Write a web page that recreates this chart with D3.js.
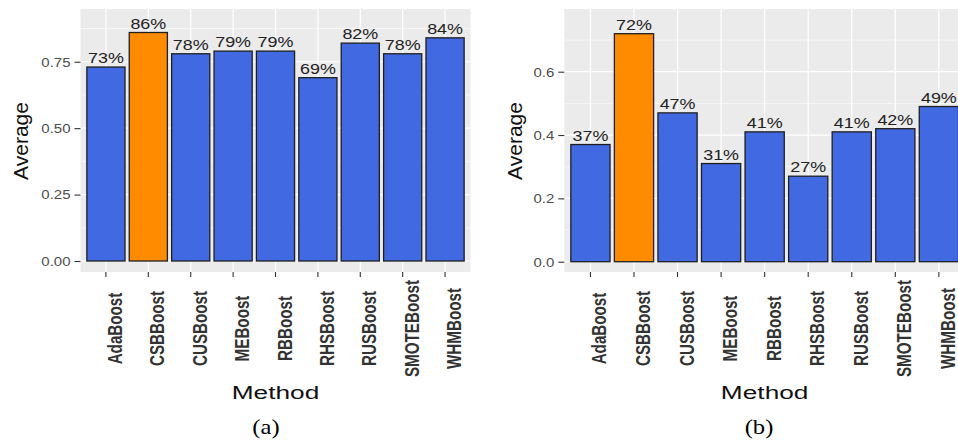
<!DOCTYPE html>
<html>
<head>
<meta charset="utf-8">
<script src="https://cdn.jsdelivr.net/npm/d3@7"></script>
<style>
  html, body { margin: 0; padding: 0; background: #fff; }
  svg { display: block; }
</style>
</head>
<body>
<svg id="chart" width="958" height="441"></svg>
<script>
// Boosting methods compared in both panels
const methods = ["AdaBoost", "CSBBoost", "CUSBoost", "MEBoost", "RBBoost",
                 "RHSBoost", "RUSBoost", "SMOTEBoost", "WHMBoost"];
const highlighted = "CSBBoost";

// Panel (a) averages
const averageA = [0.73, 0.86, 0.78, 0.79, 0.79, 0.69, 0.82, 0.78, 0.84];
const yBreaksA = [0, 0.25, 0.5, 0.75];
const yLabelsA = ["0.00", "0.25", "0.50", "0.75"];
const yMinorA = [0.125, 0.375, 0.625, 0.875];

// Panel (b) averages
const averageB = [0.37, 0.72, 0.47, 0.31, 0.41, 0.27, 0.41, 0.42, 0.49];
const yBreaksB = [0, 0.2, 0.4, 0.6];
const yLabelsB = ["0.0", "0.2", "0.4", "0.6"];
const yMinorB = [0.1, 0.3, 0.5, 0.7];

const captions = ["(a)", "(b)"];
const xTitle = "Method";
const yTitle = "Average";

const SANS = "'Liberation Sans', Arial, Helvetica, sans-serif";
const SERIF = "'Liberation Serif', 'Times New Roman', Times, serif";

const svg = d3.select("#chart");
const fmtPct = v => Math.round(v * 100) + "%";

function drawPanel(opt) {
  const { values, breaks, labels, minor, left, right, top, bottom, yDomain,
          titleX, captionX, caption } = opt;

  const x = d3.scaleBand().domain(methods).range([left, right])
    .paddingInner(0.1).paddingOuter(0.15);
  const y = d3.scaleLinear().domain(yDomain).range([bottom, top]);

  const g = svg.append("g");

  // panel background
  g.append("rect")
    .attr("x", left).attr("y", top)
    .attr("width", right - left).attr("height", bottom - top)
    .attr("fill", "#EBEBEB");

  // minor horizontal grid
  g.selectAll("line.minor").data(minor).join("line")
    .attr("x1", left).attr("x2", right)
    .attr("y1", d => y(d)).attr("y2", d => y(d))
    .attr("stroke", "#fff").attr("stroke-width", 0.6);

  // major horizontal grid
  g.selectAll("line.majorY").data(breaks).join("line")
    .attr("x1", left).attr("x2", right)
    .attr("y1", d => y(d)).attr("y2", d => y(d))
    .attr("stroke", "#fff").attr("stroke-width", 1.2);

  // major vertical grid
  g.selectAll("line.majorX").data(methods).join("line")
    .attr("x1", d => x(d) + x.bandwidth() / 2).attr("x2", d => x(d) + x.bandwidth() / 2)
    .attr("y1", top).attr("y2", bottom)
    .attr("stroke", "#fff").attr("stroke-width", 1.2);

  const data = methods.map((m, i) => ({ m, v: values[i] }));

  // bars
  g.selectAll("rect.bar").data(data).join("rect")
    .attr("x", d => x(d.m)).attr("width", x.bandwidth())
    .attr("y", d => y(d.v)).attr("height", d => y(0) - y(d.v))
    .attr("fill", d => d.m === highlighted ? "#FF8C00" : "#4169E1")
    .attr("stroke", "#1f1f1f").attr("stroke-width", 1.3);

  // value labels above bars
  g.selectAll("text.val").data(data).join("text")
    .attr("transform", d => `translate(${x(d.m) + x.bandwidth() / 2},${y(d.v) - 4}) scale(1.17,1)`)
    .attr("text-anchor", "middle")
    .style("font-family", SANS)
    .attr("font-size", 15.3)
    .attr("fill", "#222")
    .text(d => fmtPct(d.v));

  // y axis
  const yAxis = g.append("g").attr("transform", `translate(${left},0)`)
    .call(d3.axisLeft(y).tickValues(breaks).tickFormat((d, i) => labels[i])
      .tickSize(6).tickPadding(0));
  yAxis.select(".domain").remove();
  yAxis.selectAll(".tick line").attr("stroke", "#333").attr("stroke-width", 1.1);
  yAxis.selectAll(".tick text")
    .attr("x", 0).attr("dy", "0.36em")
    .attr("transform", "translate(-10,0) scale(1.25,1)")
    .style("font-family", SANS)
    .attr("font-size", 12)
    .attr("fill", "#4D4D4D");

  // x axis with vertical labels
  const xAxis = g.append("g").attr("transform", `translate(0,${bottom})`)
    .call(d3.axisBottom(x).tickSize(5).tickPadding(0));
  xAxis.select(".domain").remove();
  xAxis.selectAll(".tick line").attr("stroke", "#333").attr("stroke-width", 1.1);
  xAxis.selectAll(".tick text")
    .attr("x", 0).attr("y", 0).attr("dy", 0)
    .attr("transform", "translate(16,56.5) scale(1.35,1) rotate(-90)")
    .attr("text-anchor", "middle")
    .style("font-family", SANS)
    .attr("font-weight", "bold")
    .attr("font-size", 15.2)
    .attr("fill", "#333");

  // axis titles
  g.append("text")
    .attr("transform", `translate(${titleX},141) rotate(-90)`)
    .attr("text-anchor", "middle")
    .style("font-family", SANS)
    .attr("font-size", 21)
    .attr("fill", "#111")
    .text(yTitle);

  g.append("text")
    .attr("transform", `translate(${(left + right) / 2},399) scale(1.42,1)`)
    .attr("text-anchor", "middle")
    .style("font-family", SANS)
    .attr("font-size", 18.5)
    .attr("fill", "#111")
    .text(xTitle);

  // sub-figure caption
  g.append("text")
    .attr("transform", `translate(${captionX},434) scale(1.2,1)`)
    .attr("text-anchor", "middle")
    .style("font-family", SERIF)
    .attr("font-size", 20.5)
    .attr("fill", "#000")
    .text(caption);
}

drawPanel({
  values: averageA, breaks: yBreaksA, labels: yLabelsA, minor: yMinorA,
  left: 80.5, right: 470.5, top: 9, bottom: 272,
  yDomain: [-0.0414, 0.9485],
  titleX: 28.3, captionX: 266, caption: captions[0]
});

drawPanel({
  values: averageB, breaks: yBreaksB, labels: yLabelsB, minor: yMinorB,
  left: 564.3, right: 965, top: 9, bottom: 272,
  yDomain: [-0.0325, 0.798],
  titleX: 521.7, captionX: 759, caption: captions[1]
});
</script>
</body>
</html>
